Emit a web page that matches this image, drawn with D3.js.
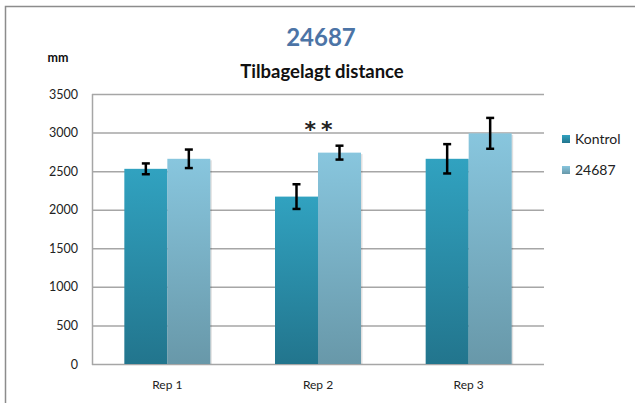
<!DOCTYPE html>
<html>
<head>
<meta charset="utf-8">
<script src="https://cdn.jsdelivr.net/npm/d3@7"></script>
<style>
  body { margin: 0; background: #fff; }
  svg { display: block; font-family: Lato, "Open Sans", sans-serif; }
</style>
</head>
<body>
<svg id="chart"></svg>
<script>
const categories = ["Rep 1", "Rep 2", "Rep 3"];
const seriesNames = ["Kontrol", "24687"];
const kontrolValues = [2530, 2170, 2660];
const kontrolErrors = [70, 160, 190];
const treatValues = [2660, 2740, 2990];
const treatErrors = [120, 90, 200];
const yTicks = [0, 500, 1000, 1500, 2000, 2500, 3000, 3500];
const significance = ["", "**", ""];

const width = 635, height = 403;
const plot = { left: 92, right: 544, top: 94, bottom: 364 };

const svg = d3.select("#chart").attr("width", width).attr("height", height);

// gradients for the two series
const defs = svg.append("defs");
const grads = [
  { id: "gK", top: "#31a2c0", bottom: "#22758d" },
  { id: "gT", top: "#88c6de", bottom: "#6898a9" }
];
grads.forEach(g => {
  const lg = defs.append("linearGradient").attr("id", g.id)
    .attr("x1", 0).attr("y1", 0).attr("x2", 0).attr("y2", 1);
  lg.append("stop").attr("offset", "0%").attr("stop-color", g.top);
  lg.append("stop").attr("offset", "100%").attr("stop-color", g.bottom);
});

// outer frame
svg.append("rect")
  .attr("x", 5.5).attr("y", 6.5).attr("width", 700).attr("height", 500)
  .attr("fill", "none").attr("stroke", "#8c8c8c").attr("stroke-width", 1.5);

const y = d3.scaleLinear().domain([0, 3500]).range([plot.bottom, plot.top]);
const x = d3.scaleBand().domain(categories).range([plot.left, plot.right]).paddingInner(0).paddingOuter(0);
const xs = d3.scaleBand().domain(seriesNames).range([0, 86]);
const barOffset = (x.bandwidth() - 86) / 2;

// gridlines
svg.append("g").selectAll("line").data(yTicks).enter().append("line")
  .attr("x1", plot.left).attr("x2", plot.right)
  .attr("y1", d => y(d) + 0.5).attr("y2", d => y(d) + 0.5)
  .attr("stroke", "#a6a6a6").attr("stroke-width", 1.5);

// left axis line
svg.append("line")
  .attr("x1", plot.left + 0.5).attr("x2", plot.left + 0.5)
  .attr("y1", plot.top).attr("y2", plot.bottom + 1)
  .attr("stroke", "#a6a6a6").attr("stroke-width", 1.5);

// y tick labels
const yAxis = svg.append("g")
  .attr("transform", `translate(${plot.left}, 0)`)
  .call(d3.axisLeft(y).tickValues(yTicks).tickFormat(d3.format("d")).tickSize(0).tickPadding(14));
yAxis.select(".domain").remove();
yAxis.selectAll("text").attr("font-size", 12.5).attr("fill", "#222").attr("font-family", "Lato, sans-serif");

// x labels
const xAxis = svg.append("g")
  .attr("transform", `translate(0, ${plot.bottom})`)
  .call(d3.axisBottom(x).tickSize(0).tickPadding(16));
xAxis.select(".domain").remove();
xAxis.selectAll("text").attr("font-size", 12).attr("fill", "#222").attr("font-family", "Lato, sans-serif");

const data = categories.map((c, i) => ({
  cat: c,
  bars: [
    { s: "Kontrol", v: kontrolValues[i], e: kontrolErrors[i], fill: "url(#gK)" },
    { s: "24687", v: treatValues[i], e: treatErrors[i], fill: "url(#gT)" }
  ]
}));

const groups = svg.append("g").selectAll("g").data(data).enter().append("g")
  .attr("transform", d => `translate(${x(d.cat) + barOffset}, 0)`);

// bars with slight shadow
groups.selectAll("rect.shadow").data(d => d.bars).enter().append("rect")
  .attr("class", "shadow")
  .attr("x", d => xs(d.s) + 1.5).attr("y", d => y(d.v) + 1.5)
  .attr("width", xs.bandwidth()).attr("height", d => y(0) - y(d.v) - 1.5)
  .attr("fill", "#000").attr("opacity", 0.12);

groups.selectAll("rect.bar").data(d => d.bars).enter().append("rect")
  .attr("class", "bar")
  .attr("x", d => xs(d.s)).attr("y", d => y(d.v))
  .attr("width", xs.bandwidth()).attr("height", d => y(0) - y(d.v))
  .attr("fill", d => d.fill);

// error bars
const err = groups.selectAll("g.err").data(d => d.bars).enter().append("g")
  .attr("class", "err")
  .attr("transform", d => `translate(${xs(d.s) + xs.bandwidth() / 2}, 0)`);
err.append("line")
  .attr("x1", 0).attr("x2", 0)
  .attr("y1", d => y(d.v + d.e)).attr("y2", d => y(d.v - d.e))
  .attr("stroke", "#000").attr("stroke-width", 2.5);
err.append("line")
  .attr("x1", -4).attr("x2", 4)
  .attr("y1", d => y(d.v + d.e)).attr("y2", d => y(d.v + d.e))
  .attr("stroke", "#000").attr("stroke-width", 2.5);
err.append("line")
  .attr("x1", -4).attr("x2", 4)
  .attr("y1", d => y(d.v - d.e)).attr("y2", d => y(d.v - d.e))
  .attr("stroke", "#000").attr("stroke-width", 2.5);

// significance marks
svg.append("g").selectAll("text").data(categories).enter().append("text")
  .attr("x", d => x(d) + x.bandwidth() / 2 + 3)
  .attr("y", (d, i) => y(Math.max(treatValues[i] + treatErrors[i], kontrolValues[i] + kontrolErrors[i])) - 9)
  .attr("text-anchor", "middle").attr("font-size", 22).attr("font-weight", "bold")
  .attr("letter-spacing", 5).attr("fill", "#222")
  .attr("font-family", "DejaVu Sans, sans-serif")
  .text((d, i) => significance[i]);

// titles
svg.append("text").attr("x", 321).attr("y", 46)
  .attr("text-anchor", "middle").attr("font-size", 24).attr("font-weight", "bold")
  .attr("fill", "#4c74a6").text("24687");
svg.append("text").attr("x", 322).attr("y", 78)
  .attr("text-anchor", "middle").attr("font-size", 18.5).attr("font-weight", "bold")
  .attr("fill", "#111").text("Tilbagelagt distance");
svg.append("text").attr("x", 58).attr("y", 62)
  .attr("text-anchor", "middle").attr("font-size", 12.5).attr("font-weight", "bold")
  .attr("fill", "#111").text("mm");

// legend
const legend = svg.append("g").selectAll("g").data(seriesNames).enter().append("g")
  .attr("transform", (d, i) => `translate(562, ${139 + i * 31})`);
legend.append("rect").attr("x", 0).attr("y", -4).attr("width", 8).attr("height", 8)
  .attr("fill", (d, i) => i === 0 ? "url(#gK)" : "url(#gT)");
legend.append("text").attr("x", 13).attr("y", 5)
  .attr("font-size", 14).attr("fill", "#222").text(d => d);
</script>
</body>
</html>
